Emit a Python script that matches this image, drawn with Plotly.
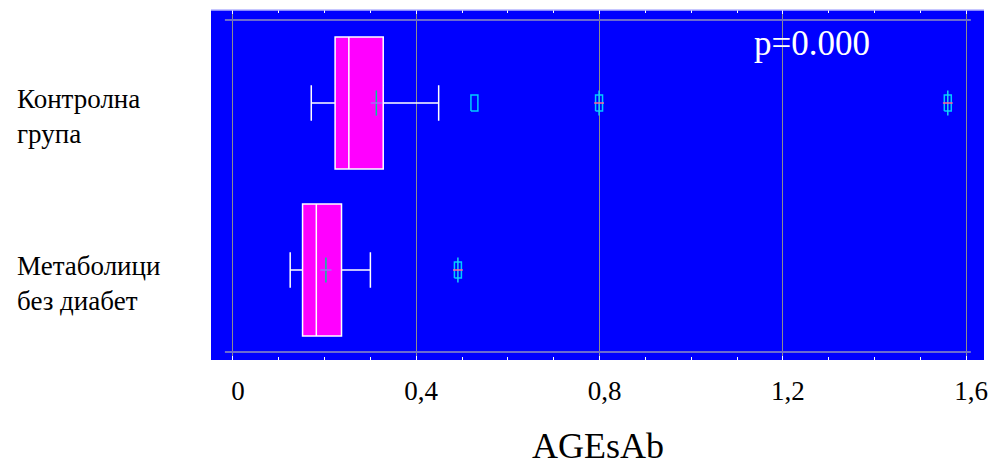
import plotly.graph_objects as go

# ---------------- data ----------------
group_labels = ["Контролна<br>група", "Метаболици<br>без диабет"]
group_pos = [1, 0]
lower_whisker = [0.171, 0.125]
q1_values = [0.223, 0.152]
median_values = [0.253, 0.182]
q3_values = [0.328, 0.237]
upper_whisker = [0.449, 0.300]
mean_values = [0.313, 0.203]
outlier_group = [0, 0, 0, 1]
outlier_values = [0.527, 0.799, 1.560, 0.491]
outlier_far = [False, True, True, True]
x_tickvals = [0, 0.4, 0.8, 1.2, 1.6]
x_ticktext = ["0", "0,4", "0,8", "1,2", "1,6"]
p_text = "p=0.000"
x_title = "AGEsAb"

# ---------------- style ----------------
FONT = "Liberation Serif, DejaVu Serif, serif"
BLUE = "#0000ff"
MAGENTA = "#ff00ff"
CYAN = "#00ccff"
MEAN_COL = "#5aa08c"
FAR_COL = "#30c8a0"
RECT_DX = 0.0076   # half width of outlier rectangle (x units)
RECT_DY = 0.048    # half height of outlier rectangle (y units)

fig = go.Figure()

for i in range(len(group_pos)):
    fig.add_trace(go.Box(
        orientation="h",
        y=[group_pos[i]],
        q1=[q1_values[i]], median=[median_values[i]], q3=[q3_values[i]],
        lowerfence=[lower_whisker[i]], upperfence=[upper_whisker[i]],
        boxpoints=False,
        fillcolor=MAGENTA,
        line=dict(color="white", width=1.5),
        width=0.79,
        whiskerwidth=0.27,
        showlegend=False,
        hoverinfo="skip",
    ))

# mean crosses
mean_y = [group_pos[i] for i in range(len(group_pos))]
fig.add_trace(go.Scatter(x=mean_values, y=mean_y, mode="markers",
                         marker=dict(symbol="line-ns-open", size=18,
                                     line=dict(color=MEAN_COL, width=1.5)),
                         showlegend=False, hoverinfo="skip"))
fig.add_trace(go.Scatter(x=mean_values, y=mean_y, mode="markers",
                         marker=dict(symbol="line-ew-open", size=8,
                                     line=dict(color=MEAN_COL, width=1.5)),
                         showlegend=False, hoverinfo="skip"))

# outlier rectangles
rx, ry = [], []
for v, g in zip(outlier_values, outlier_group):
    yc = group_pos[g]
    rx += [v - RECT_DX, v + RECT_DX, v + RECT_DX, v - RECT_DX, v - RECT_DX, None]
    ry += [yc - RECT_DY, yc - RECT_DY, yc + RECT_DY, yc + RECT_DY, yc - RECT_DY, None]
fig.add_trace(go.Scatter(x=rx, y=ry, mode="lines",
                         line=dict(color=CYAN, width=1.5),
                         showlegend=False, hoverinfo="skip"))

# far-outlier plus signs
fx = [v for v, f in zip(outlier_values, outlier_far) if f]
fy = [group_pos[g] for g, f in zip(outlier_group, outlier_far) if f]
fig.add_trace(go.Scatter(x=fx, y=fy, mode="markers",
                         marker=dict(symbol="line-ns-open", size=18,
                                     line=dict(color=FAR_COL, width=1.5)),
                         showlegend=False, hoverinfo="skip"))
fig.add_trace(go.Scatter(x=fx, y=fy, mode="markers",
                         marker=dict(symbol="line-ew-open", size=7,
                                     line=dict(color=FAR_COL, width=1.5)),
                         showlegend=False, hoverinfo="skip"))

annotations = []
for lab, pos in zip(group_labels, group_pos):
    annotations.append(dict(
        x=-0.254, xref="paper", xanchor="left", align="left",
        y=pos, yref="y", yanchor="middle", yshift=-13,
        text=lab, showarrow=False,
        font=dict(family=FONT, size=27, color="black")))
annotations.append(dict(
    x=0.70, xref="paper", xanchor="left",
    y=0.905, yref="paper", yanchor="middle",
    text=p_text, showarrow=False,
    font=dict(family=FONT, size=35, color="white")))
annotations.append(dict(
    x=0.5, xref="paper", xanchor="center",
    y=-0.245, yref="paper", yanchor="middle",
    text=x_title, showarrow=False,
    font=dict(family=FONT, size=36, color="black")))

shapes = [
    dict(type="line", xref="paper", yref="paper", x0=0.018, x1=0.983,
         y0=0.9714, y1=0.9714, line=dict(color="#6b6bd0", width=2)),
    dict(type="line", xref="paper", yref="paper", x0=0.018, x1=0.983,
         y0=0.0229, y1=0.0229, line=dict(color="#6b6bd0", width=2)),
    dict(type="line", xref="paper", yref="paper", x0=0, x1=1,
         y0=1, y1=1, line=dict(color="#b4b4ff", width=1.5)),
]

fig.update_layout(
    width=996, height=470,
    margin=dict(l=211, r=8, t=10, b=110),
    paper_bgcolor="white",
    plot_bgcolor=BLUE,
    showlegend=False,
    annotations=annotations,
    shapes=shapes,
    xaxis=dict(
        range=[-0.0478, 1.639],
        tickvals=x_tickvals, ticktext=x_ticktext,
        showgrid=True, gridcolor="#8c8c8c", gridwidth=1,
        zeroline=False, showline=False,
        ticks="inside", ticklen=4, tickcolor="white", mirror="ticks",
        minor=dict(dtick=0.1, tick0=0, ticks="inside", ticklen=3,
                   tickcolor="white", showgrid=False),
        tickfont=dict(family=FONT, size=27, color="black"),
        ticklabelstandoff=12,
        ticklabelshift=5,
    ),
    yaxis=dict(
        range=[-0.539, 1.557],
        showticklabels=False, showgrid=False, zeroline=False,
        showline=False, ticks="",
    ),
)

fig.write_html("out.html")
